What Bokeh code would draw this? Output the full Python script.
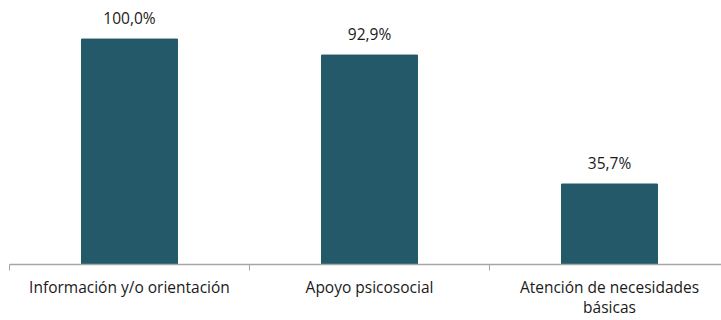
from bokeh.plotting import figure
from bokeh.models import ColumnDataSource, Range1d, FixedTicker
from bokeh.core.properties import value
from bokeh.embed import file_html
from bokeh.resources import INLINE

categories = ["Información y/o orientación", "Apoyo psicosocial", "Atención de necesidades\nbásicas"]
values = [100.0, 92.9, 35.7]
labels = ["100,0%", "92,9%", "35,7%"]

xs = [i + 0.5 for i in range(len(categories))]
src = ColumnDataSource(dict(x=xs, top=values, label=labels))

p = figure(width=721, height=320, output_backend="svg", toolbar_location=None,
           x_range=Range1d(0, 712 / 240), y_range=Range1d(0, 117.1))
p.min_border_left = 9
p.min_border_right = 0
p.min_border_top = 0
p.min_border_bottom = 53
p.outline_line_color = None
p.background_fill_color = "white"
p.border_fill_color = "white"
p.xgrid.visible = False
p.ygrid.visible = False
p.yaxis.visible = False

p.vbar(x="x", top="top", width=0.4, bottom=0, source=src, color="#235968")
p.text(x="x", y="top", text="label", source=src, text_align="center",
       text_baseline="bottom", y_offset=-10, text_font=value("Open Sans"),
       text_font_size="15.5px", text_color="#1a1a1a")

ax = p.xaxis[0]
ax.ticker = FixedTicker(ticks=xs, minor_ticks=list(range(len(categories) + 1)))
ax.major_label_overrides = {x: c for x, c in zip(xs, categories)}
ax.major_tick_line_color = None
ax.minor_tick_line_color = "#a6a6a6"
ax.minor_tick_in = 0
ax.minor_tick_out = 6
ax.axis_line_color = "#a6a6a6"
ax.axis_line_width = 1.5
ax.major_label_text_font = "Open Sans"
ax.major_label_text_font_size = "15.5px"
ax.major_label_text_color = "#1a1a1a"
ax.major_label_standoff = 5
ax.major_label_text_line_height = 0.93

open("out.html", "w").write(file_html(p, INLINE))
